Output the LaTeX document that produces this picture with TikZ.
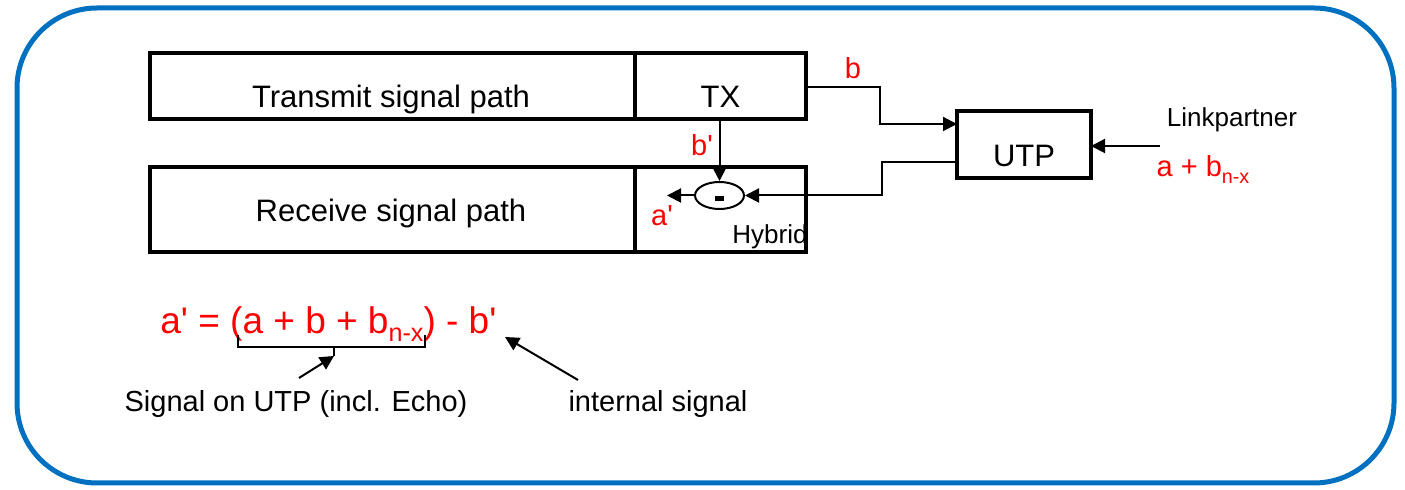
\documentclass[tikz,border=0pt]{standalone}
\usepackage{fontspec}
\setmainfont{Liberation Sans}[Ligatures=TeXOff]
\usetikzlibrary{arrows.meta,positioning,shapes.geometric}
\definecolor{frameblue}{RGB}{0,112,192}
\newcommand{\lowidx}[1]{\raisebox{-0.4ex}{\scalebox{0.68}{#1}}}

\begin{document}
\begin{tikzpicture}[x=0.5pt, y=-0.5pt,
    block/.style={rectangle, draw, line width=2pt, outer sep=0pt, inner sep=0pt},
    blocktext/.style={anchor=base, inner sep=0pt, font=\fontsize{15.5}{18}\selectfont},
    arrow/.style={-{Triangle[length=7pt, width=7pt]}, line width=1pt},
    sig/.style={anchor=base, text=red, inner sep=0pt, font=\fontsize{14.5}{17}\selectfont},
    note/.style={anchor=base, inner sep=0pt, font=\fontsize{13}{15}\selectfont},
]
\useasboundingbox (0,0) rectangle (1405,490);

% frame
\draw[frameblue, line width=2.5pt, rounded corners=40pt] (17,8) rectangle (1394,483);

% transmit and receive paths
\node[note, anchor=base west] (hybtxt) at (732,244) {Hybrid};
\node[block, minimum width=242.5pt, minimum height=33pt] (tsp) at (392.5,86) {};
\node[block, minimum width=85.5pt, minimum height=33pt, right=0pt of tsp] (tx) {};
\node[block, minimum width=242.5pt, minimum height=42.5pt] (rsp) at (392.5,209.5) {};
\node[block, minimum width=85.5pt, minimum height=42.5pt, right=0pt of rsp] (hyb) {};
\node[blocktext] (tsptxt) at (391,108) {Transmit signal path};
\node[blocktext] (txtxt) at (720.5,108) {TX};
\node[blocktext] (rsptxt) at (391,222) {Receive signal path};

% UTP and link partner
\node[block, minimum width=67pt, minimum height=33.5pt] (utp) at (1024,144.5) {};
\node[blocktext] (utptxt) at (1024,167) {UTP};
\node[note] (lp) at (1232,127) {Linkpartner};
\node[sig] (lpsig) at (1203,177) {a + b\lowidx{n-x}};
\coordinate (lpin) at (1160,146);

% subtraction
\node[ellipse, draw, line width=1pt, minimum width=24.5pt, minimum height=13.5pt, inner sep=0pt]
    (sub) at (719.5,195.5) {\raisebox{-3pt}[0pt][0pt]{\rule{4.5pt}{2.5pt}}};
\coordinate (aout) at (667,195.5);

% connections
\draw[arrow] (tx.east |- 0,87) -- (880,87) |- ([yshift=10.25pt]utp.west);
\draw[arrow] ([yshift=-8.75pt]utp.west) -| ([xshift=68.5pt]sub.east) -- (sub.east);
\draw[arrow] (sub.north |- tx.south) -- (sub.north);
\draw[arrow] (sub.west) -- (aout);
\draw[arrow] (lpin) -- (lpin -| utp.east);

% signal labels
\node[sig] (lb) at (853,79) {b};
\node[sig] (lbp) at (702,156) {b'};
\node[sig] (lap) at (662,226) {a'};

% formula
\node[sig, anchor=base west, font=\fontsize{18.5}{22}\selectfont] (form) at (160,334) {a' = (a + b + b\lowidx{n-x}) - b'};
\coordinate (brl) at (238,335);
\coordinate (brr) at (425,335);
\coordinate (brtip) at (334,356);
\draw[line width=1pt] (brl) -- (238,347) -- (425,347) -- (brr);
\draw[line width=1pt] (334,347) -- (brtip);

\node[blocktext, font=\fontsize{14.5}{17}\selectfont] (sigutp) at (296,412) {Signal on UTP (incl. Echo)};
\node[blocktext, font=\fontsize{14.5}{17}\selectfont] (intsig) at (658,412) {internal signal};
\coordinate (sigtail) at (299,378);
\coordinate (inttail) at (578,380);
\coordinate (inttip) at (505,337);
\draw[arrow] (sigtail) -- (brtip);
\draw[arrow] (inttail) -- (inttip);

\end{tikzpicture}
\end{document}
